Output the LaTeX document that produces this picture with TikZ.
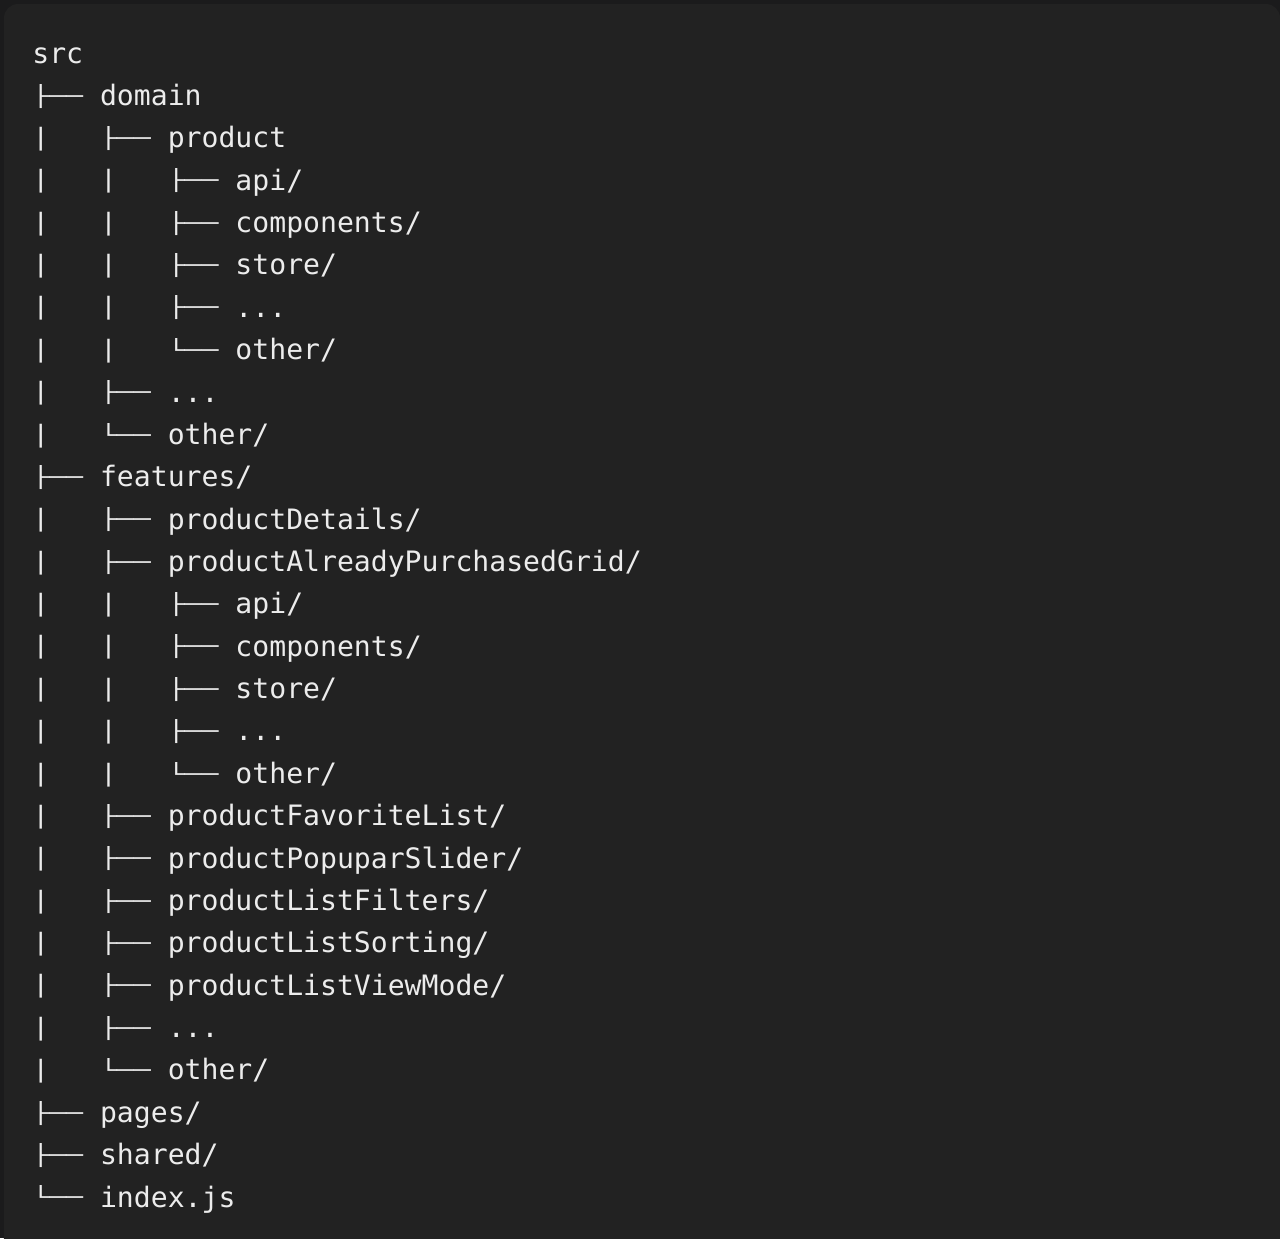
\documentclass[tikz,border=0pt]{standalone}
\usepackage{fontspec}
\usepackage{graphicx}
\usepackage{tikz}
\newfontfamily\treefont{DejaVu Sans Mono}
\definecolor{outerbg}{RGB}{27,27,28}
\definecolor{codebg}{RGB}{34,34,34}
\definecolor{codefg}{RGB}{236,236,236}
% tree glyphs, squashed to the height of the capitals
\newcommand{\tg}[1]{\raisebox{1.3pt}{\scalebox{1}[0.72]{#1}}}
\newcommand{\vb}{\raisebox{1.3pt}{\scalebox{1}[0.85]{|}}}
\newcommand{\br}{\tg{├──}}
\newcommand{\lb}{\tg{└──}}

\begin{document}
\begin{tikzpicture}[scale=0.2]
            \tikzstyle{every node}+=[inner sep=0pt, anchor=base west, text=codefg, font=\treefont\fontsize{16}{19}\selectfont]
            \useasboundingbox (0,0) rectangle (128,-123.8);
            \fill [outerbg] (0,0) rectangle (128,-123.8);
            \fill [codebg, rounded corners=8pt] (0.4,-0.4) rectangle (128,-126);
            \node (src) at (3.2,-6.30) {src};
            \node (domain) at (3.2,-10.54) {\br~domain};
            \node (product) at (3.2,-14.77) {\vb~~~\br~product};
            \node (papi) at (3.2,-19.01) {\vb~~~\vb~~~\br~api/};
            \node (pcomponents) at (3.2,-23.25) {\vb~~~\vb~~~\br~components/};
            \node (pstore) at (3.2,-27.49) {\vb~~~\vb~~~\br~store/};
            \node (pdots) at (3.2,-31.72) {\vb~~~\vb~~~\br~...};
            \node (pother) at (3.2,-35.96) {\vb~~~\vb~~~\lb~other/};
            \node (ddots) at (3.2,-40.20) {\vb~~~\br~...};
            \node (dother) at (3.2,-44.43) {\vb~~~\lb~other/};
            \node (features) at (3.2,-48.67) {\br~features/};
            \node (details) at (3.2,-52.91) {\vb~~~\br~productDetails/};
            \node (grid) at (3.2,-57.14) {\vb~~~\br~productAlreadyPurchasedGrid/};
            \node (gapi) at (3.2,-61.38) {\vb~~~\vb~~~\br~api/};
            \node (gcomponents) at (3.2,-65.62) {\vb~~~\vb~~~\br~components/};
            \node (gstore) at (3.2,-69.86) {\vb~~~\vb~~~\br~store/};
            \node (gdots) at (3.2,-74.09) {\vb~~~\vb~~~\br~...};
            \node (gother) at (3.2,-78.33) {\vb~~~\vb~~~\lb~other/};
            \node (favorite) at (3.2,-82.57) {\vb~~~\br~productFavoriteList/};
            \node (popular) at (3.2,-86.80) {\vb~~~\br~productPopuparSlider/};
            \node (filters) at (3.2,-91.04) {\vb~~~\br~productListFilters/};
            \node (sorting) at (3.2,-95.28) {\vb~~~\br~productListSorting/};
            \node (viewmode) at (3.2,-99.51) {\vb~~~\br~productListViewMode/};
            \node (fdots) at (3.2,-103.75) {\vb~~~\br~...};
            \node (fother) at (3.2,-107.99) {\vb~~~\lb~other/};
            \node (pages) at (3.2,-112.23) {\br~pages/};
            \node (shared) at (3.2,-116.46) {\br~shared/};
            \node (index) at (3.2,-120.70) {\lb~index.js};
\end{tikzpicture}
\end{document}
